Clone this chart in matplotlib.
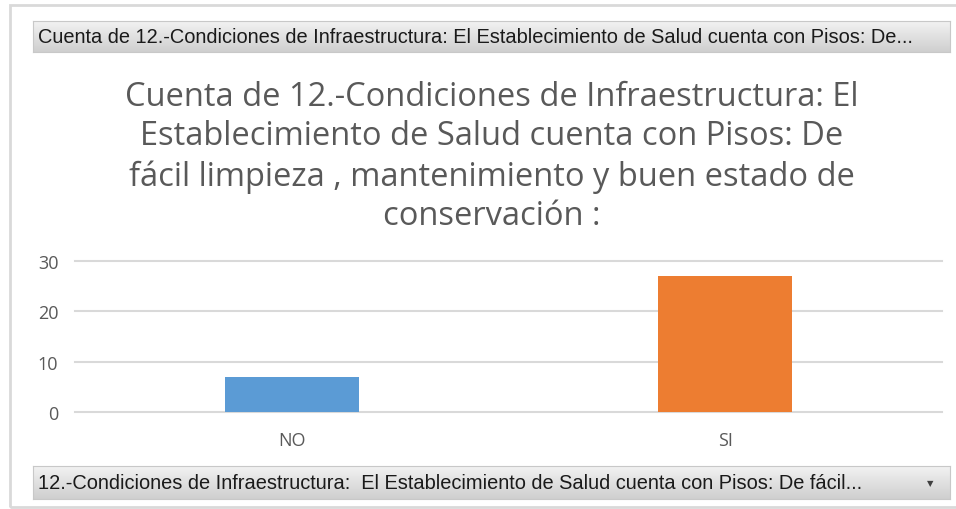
import matplotlib.pyplot as plt
from matplotlib.patches import Rectangle
from matplotlib.colors import LinearSegmentedColormap
import numpy as np

categories = ['NO', 'SI']
counts = [7, 27]
colors = ['#5B9BD5', '#ED7D31']

title = ('Cuenta de 12.-Condiciones de Infraestructura: El\n'
         'Establecimiento de Salud cuenta con Pisos: De\n'
         'fácil limpieza , mantenimiento y buen estado de\n'
         'conservación :')
top_button = 'Cuenta de 12.-Condiciones de Infraestructura: El Establecimiento de Salud cuenta con Pisos: De...'
bottom_button = '12.-Condiciones de Infraestructura:  El Establecimiento de Salud cuenta con Pisos: De fácil...'

W, H = 956, 510
fig = plt.figure(figsize=(W / 100, H / 100), dpi=100)
fig.patch.set_facecolor('white')


def fx(px):
    return px / W


def fy(py):
    return 1 - py / H


# chart border
fig.patches.append(Rectangle((fx(10), fy(508)), fx(960) - fx(10), fy(6) - fy(508),
                             transform=fig.transFigure, fill=False,
                             edgecolor='#D9D9D9', linewidth=2))

gray = LinearSegmentedColormap.from_list('g', ['#F2F2F2', '#CFCFCF'])


def button(y0, y1, text, arrow=False):
    # gray gradient field button
    grad = np.linspace(0, 1, 50).reshape(-1, 1)
    ax_b = fig.add_axes([fx(33), fy(y1), fx(950) - fx(33), fy(y0) - fy(y1)])
    ax_b.imshow(grad, aspect='auto', cmap=gray, extent=[0, 1, 0, 1], origin='upper')
    ax_b.set_xlim(0, 1)
    ax_b.set_ylim(0, 1)
    ax_b.set_xticks([])
    ax_b.set_yticks([])
    for s in ax_b.spines.values():
        s.set_color('#C8C8C8')
        s.set_linewidth(0.8)
    ax_b.text(5 / 917, 0.5, text, va='center', ha='left',
              fontsize=14.4, family='Liberation Sans', color='#1A1A1A')
    if arrow:
        ax_b.text(0.978, 0.5, '▼', va='center', ha='center', fontsize=6, color='#404040')


button(22, 53, top_button)
button(467, 500, bottom_button, arrow=True)

fig.text(fx(492), fy(157), title, ha='center', va='center', fontsize=23.5,
         family='Open Sans', color='#595959', linespacing=1.27)

ax = fig.add_axes([fx(75), fy(413), fx(942) - fx(75), fy(262) - fy(413)])
x = np.arange(len(categories))
ax.bar(x, counts, width=0.31, color=colors, zorder=3)
ax.set_xlim(-0.5, 1.5)
ax.set_ylim(0, 30)
ax.set_yticks([0, 10, 20, 30])
ax.set_xticks(x)
ax.set_xticklabels(categories)
ax.yaxis.grid(True, color='#D9D9D9', linewidth=1.5, zorder=0)
for gl in ax.get_ygridlines():
    gl.set_clip_on(False)
ax.set_axisbelow(True)
for s in ax.spines.values():
    s.set_visible(False)
ax.tick_params(length=0, labelsize=13, labelcolor='#595959')
ax.tick_params(axis='y', pad=12)
ax.tick_params(axis='x', pad=14)
for lab in ax.get_xticklabels() + ax.get_yticklabels():
    lab.set_family('Open Sans')
ax.set_facecolor('none')

fig.savefig('out.png', dpi=100)
